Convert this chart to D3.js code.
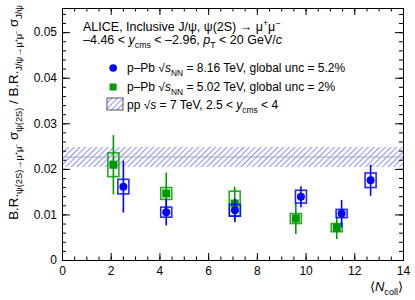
<!DOCTYPE html>
<html>
<head>
<meta charset="utf-8">
<script src="https://cdnjs.cloudflare.com/ajax/libs/d3/7.8.5/d3.min.js"></script>
<style>
  body { margin: 0; background: #fff; }
  svg { font-family: "Liberation Sans", Arial, sans-serif; }
</style>
</head>
<body>
<div id="chart"></div>
<script>
// data
var ncoll816 = [2.52, 4.28, 7.1, 9.81, 11.48, 12.67];
var ratio816 = [0.0161, 0.0105, 0.0109, 0.0139, 0.0102, 0.0175];
var stat816  = [0.0057, 0.0029, 0.0026, 0.0023, 0.0030, 0.0034];
var syst816  = [0.0016, 0.0011, 0.0013, 0.0014, 0.0009, 0.0016];

var ncoll502 = [2.11, 4.28, 7.09, 9.6, 11.28];
var ratio502 = [0.0209, 0.0146, 0.0124, 0.0091, 0.0071];
var stat502  = [0.0065, 0.0046, 0.0037, 0.0034, 0.0025];
var syst502  = [0.0026, 0.0013, 0.0027, 0.0011, 0.0009];

var ppRatio = 0.0226, ppUnc = 0.0022;

var xTicks = [0, 2, 4, 6, 8, 10, 12, 14];
var yTicks = [0, 0.01, 0.02, 0.03, 0.04, 0.05];

var W = 415, H = 300,
    m = {top: 8, right: 12, bottom: 40, left: 62};

var svg = d3.select("#chart").append("svg")
  .attr("width", W)
  .attr("height", H);

var x = d3.scaleLinear().domain([0, 14]).range([m.left, W - m.right]);
var y = d3.scaleLinear().domain([0, 0.0553]).range([H - m.bottom, m.top]);

var blue = "#0000ff", green = "#009a00";

// hatch pattern for pp band
var defs = svg.append("defs");
var pat = defs.append("pattern")
  .attr("id", "hatch")
  .attr("patternUnits", "userSpaceOnUse")
  .attr("width", 4).attr("height", 4)
  .attr("patternTransform", "rotate(45)");
pat.append("line")
  .attr("x1", 0).attr("y1", 0).attr("x2", 0).attr("y2", 4)
  .attr("stroke", "#3030ff").attr("stroke-width", 1.1);

// pp band
svg.append("rect")
  .attr("x", x(0)).attr("width", x(14) - x(0))
  .attr("y", y(ppRatio + ppUnc))
  .attr("height", y(ppRatio - ppUnc) - y(ppRatio + ppUnc))
  .attr("fill", "url(#hatch)");
svg.append("line")
  .attr("x1", x(0)).attr("x2", x(14))
  .attr("y1", y(ppRatio)).attr("y2", y(ppRatio))
  .attr("stroke", "#aaa").attr("stroke-width", 1);

function drawSeries(xs, vals, stat, syst, col, marker) {
  var d = xs.map(function(v, i) { return {x: v, y: vals[i], st: stat[i], sy: syst[i]}; });
  var g = svg.append("g");
  g.selectAll(".err").data(d).enter().append("line")
    .attr("x1", function(d){ return x(d.x) }).attr("x2", function(d){ return x(d.x) })
    .attr("y1", function(d){ return y(d.y + d.st) })
    .attr("y2", function(d){ return y(d.y - d.st) })
    .attr("stroke", col).attr("stroke-width", 1.6);
  g.selectAll(".box").data(d).enter().append("rect")
    .attr("x", function(d){ return x(d.x) - 5.5 })
    .attr("width", 11)
    .attr("y", function(d){ return y(d.y + d.sy) })
    .attr("height", function(d){ return y(d.y - d.sy) - y(d.y + d.sy) })
    .attr("fill", "none").attr("stroke", col).attr("stroke-width", 1.6)
    .attr("stroke-opacity", 0.85);
  if (marker == "circle") {
    g.selectAll(".mk").data(d).enter().append("circle")
      .attr("cx", function(d){ return x(d.x) })
      .attr("cy", function(d){ return y(d.y) })
      .attr("r", 4).attr("fill", col);
  } else {
    g.selectAll(".mk").data(d).enter().append("rect")
      .attr("x", function(d){ return x(d.x) - 4 })
      .attr("y", function(d){ return y(d.y) - 4 })
      .attr("width", 8).attr("height", 8).attr("fill", col);
  }
}
drawSeries(ncoll502, ratio502, stat502, syst502, green, "square");
drawSeries(ncoll816, ratio816, stat816, syst816, blue, "circle");

// axes, ROOT style: ticks inside on all four sides
function minorTicks(step, lo, hi) {
  var t = [];
  for (var v = lo; v <= hi + 1e-9; v += step) t.push(+v.toFixed(6));
  return t;
}
var fmtY = function(d){ return d == 0 ? "0" : d3.format(".2f")(d) };

svg.append("g").attr("transform", "translate(0," + y(0) + ")")
  .call(d3.axisBottom(x).tickValues(minorTicks(0.5, 0, 14)).tickSize(-3.5).tickFormat(""));
svg.append("g").attr("transform", "translate(0," + y(0) + ")")
  .call(d3.axisBottom(x).tickValues(xTicks).tickSize(-7).tickPadding(6).tickFormat(d3.format("d")))
  .attr("class", "xax");
svg.append("g").attr("transform", "translate(0," + m.top + ")")
  .call(d3.axisTop(x).tickValues(minorTicks(0.5, 0, 14)).tickSize(-3.5).tickFormat(""));
svg.append("g").attr("transform", "translate(0," + m.top + ")")
  .call(d3.axisTop(x).tickValues(xTicks).tickSize(-7).tickFormat(""));

svg.append("g").attr("transform", "translate(" + x(0) + ",0)")
  .call(d3.axisLeft(y).tickValues(minorTicks(0.002, 0, 0.054)).tickSize(-4).tickFormat(""));
svg.append("g").attr("transform", "translate(" + x(0) + ",0)")
  .call(d3.axisLeft(y).tickValues(yTicks).tickSize(-8).tickPadding(5).tickFormat(fmtY))
  .attr("class", "yax");
svg.append("g").attr("transform", "translate(" + x(14) + ",0)")
  .call(d3.axisRight(y).tickValues(minorTicks(0.002, 0, 0.054)).tickSize(-4).tickFormat(""));
svg.append("g").attr("transform", "translate(" + x(14) + ",0)")
  .call(d3.axisRight(y).tickValues(yTicks).tickSize(-8).tickFormat(""));

svg.selectAll(".domain").attr("stroke", "#000");
svg.selectAll(".tick line").attr("stroke", "#000");
svg.selectAll(".xax .tick text, .yax .tick text")
  .attr("font-size", 12).attr("fill", "#000")
  .attr("font-family", "Liberation Sans, Arial, sans-serif");

// rich text helper: parts = [[text, "n"|"sub"|"sup"|"it"|"subit"]]
function rich(sel, parts, size) {
  var shift = 0;
  parts.forEach(function(p) {
    var kind = p[1] || "n";
    var target = (kind == "sub" || kind == "subit") ? size * 0.32 : (kind == "sup" ? -size * 0.38 : 0);
    var t = sel.append("tspan").text(p[0]).attr("dy", target - shift);
    shift = target;
    t.attr("font-size", (kind == "sub" || kind == "sup" || kind == "subit") ? size * 0.7 : size);
    if (kind == "it" || kind == "subit") t.attr("font-style", "italic");
  });
  return sel;
}

// header text
rich(svg.append("text").attr("x", 83).attr("y", 31), [["ALICE, Inclusive J/\u03c8, \u03c8(2S) \u2192 \u03bc"], ["+", "sup"], ["\u03bc"], ["\u2212", "sup"]], 12.5);
rich(svg.append("text").attr("x", 83).attr("y", 44), [["\u20134.46 < "], ["y", "it"], ["cms", "sub"], [" < \u20132.96, "], ["p", "it"], ["T", "sub"], [" < 20 GeV/"], ["c", "it"]], 12.5);

// legend
svg.append("circle").attr("cx", x(2.1)).attr("cy", 68).attr("r", 3.8).attr("fill", blue);
svg.append("rect").attr("x", x(2.1) - 3.5).attr("y", 83.5).attr("width", 7).attr("height", 7).attr("fill", green);
svg.append("rect").attr("x", 107).attr("y", 98).attr("width", 16).attr("height", 12)
  .attr("fill", "url(#hatch)").attr("stroke", "#555").attr("stroke-width", 1);

rich(svg.append("text").attr("x", 127).attr("y", 72), [["p\u2013Pb \u221a"], ["s", "it"], ["NN", "sub"], [" = 8.16 TeV, global unc = 5.2%"]], 12);
rich(svg.append("text").attr("x", 127).attr("y", 91), [["p\u2013Pb \u221a"], ["s", "it"], ["NN", "sub"], [" = 5.02 TeV, global unc = 2%"]], 12);
rich(svg.append("text").attr("x", 127).attr("y", 109), [["pp \u221a"], ["s", "it"], [" = 7 TeV, 2.5 < "], ["y", "it"], ["cms", "sub"], [" < 4"]], 12);

// axis titles
rich(svg.append("text").attr("text-anchor", "end").attr("x", x(14)).attr("y", 291),
  [["\u27e8"], ["N", "it"], ["coll", "sub"], ["\u27e9"]], 13);

rich(svg.append("text").attr("text-anchor", "end")
  .attr("transform", "translate(18," + 5 + ") rotate(-90)"),
  [["B.R."], ["\u03c8(2S)\u2192\u03bc\u207a\u03bc\u207b", "sub"], [" \u03c3"], ["\u03c8(2S)", "sub"],
   [" / B.R."], ["J/\u03c8\u2192\u03bc\u207a\u03bc\u207b", "sub"], [" \u03c3"], ["J/\u03c8", "sub"]], 13.3);
</script>
</body>
</html>
